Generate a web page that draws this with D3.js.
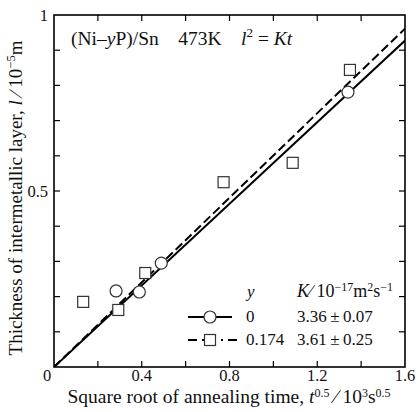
<!DOCTYPE html>
<html lang="en">
<head>
    <meta charset="UTF-8">
    <title>Intermetallic layer growth</title>
    <script src="https://d3js.org/d3.v7.min.js"></script>
    <style>
        body { margin: 0; background: #fff; }
        text { font-family: "Liberation Serif", "Times New Roman", "DejaVu Serif", serif; }
    </style>
</head>
<body>
<svg width="418" height="412"></svg>

<script>
    // data
    const circX = [0.283, 0.389, 0.489, 1.34];      // y = 0
    const circY = [0.216, 0.213, 0.295, 0.781];
    const sqX = [0.133, 0.293, 0.416, 0.773, 1.088, 1.349];  // y = 0.174
    const sqY = [0.185, 0.162, 0.267, 0.525, 0.580, 0.844];
    const kVals = [3.36, 3.61];   // K / 1e-17 m2 s-1
    const xTicks = [0.4, 0.8, 1.2, 1.6];
    const yTicks = [0.5, 1];

    const svg = d3.select("svg");
    const x = d3.scaleLinear().domain([0, 1.6]).range([54, 405]);
    const y = d3.scaleLinear().domain([0, 1]).range([367, 15]);
    const serif = "'Liberation Serif', 'Times New Roman', 'DejaVu Serif', serif";

    // frame
    svg.append("rect")
        .attr("x", x(0)).attr("y", y(1))
        .attr("width", x(1.6) - x(0)).attr("height", y(0) - y(1))
        .attr("fill", "none").attr("stroke", "#000").attr("stroke-width", 1.6);

    // inward ticks, all four sides
    const tk = 6;
    const g = svg.append("g").attr("stroke", "#000").attr("stroke-width", 1.2);
    d3.range(0.2, 1.6, 0.2).forEach(function (v) {
        g.append("line").attr("x1", x(v)).attr("x2", x(v)).attr("y1", y(0)).attr("y2", y(0) - tk);
        g.append("line").attr("x1", x(v)).attr("x2", x(v)).attr("y1", y(1)).attr("y2", y(1) + tk);
    });
    d3.range(0.1, 0.95, 0.1).forEach(function (v) {
        g.append("line").attr("x1", x(0)).attr("x2", x(0) + tk).attr("y1", y(v)).attr("y2", y(v));
        g.append("line").attr("x1", x(1.6)).attr("x2", x(1.6) - tk).attr("y1", y(v)).attr("y2", y(v));
    });

    const txt = svg.append("g").attr("font-family", serif).attr("fill", "#111");

    // tick labels
    txt.append("text").attr("x", 47).attr("y", 381).attr("font-size", 16.5)
        .attr("text-anchor", "middle").text("0");
    txt.selectAll(".xl").data(xTicks).enter().append("text")
        .attr("x", d => x(d)).attr("y", 381).attr("font-size", 16.5)
        .attr("text-anchor", "middle").text(d => d.toFixed(1));
    txt.selectAll(".yl").data(yTicks).enter().append("text")
        .attr("x", 48).attr("y", d => y(d) + 6).attr("font-size", 16.5)
        .attr("text-anchor", "end").text(d => d === 1 ? "1" : d.toFixed(1));

    // axis titles
    const xt = txt.append("text").attr("x", 229).attr("y", 403).attr("font-size", 19.5)
        .attr("text-anchor", "middle");
    xt.append("tspan").text("Square root of annealing time, ");
    xt.append("tspan").attr("font-style", "italic").text("t");
    xt.append("tspan").attr("dy", -6).attr("font-size", 12).text("0.5");
    xt.append("tspan").attr("dy", 6).text(" \u2215 10");
    xt.append("tspan").attr("dy", -6).attr("font-size", 12).text("3");
    xt.append("tspan").attr("dy", 6).text("s");
    xt.append("tspan").attr("dy", -6).attr("font-size", 12).text("0.5");

    const yt = txt.append("text").attr("transform", "translate(22,198) rotate(-90)")
        .attr("font-size", 19).attr("text-anchor", "middle");
    yt.append("tspan").text("Thickness of intermetallic layer, ");
    yt.append("tspan").attr("font-style", "italic").text("l");
    yt.append("tspan").text(" \u2215 10");
    yt.append("tspan").attr("dy", -7).attr("font-size", 12.5).text("\u22125");
    yt.append("tspan").attr("dy", 7).text("m");

    // title
    const tt = txt.append("text").attr("x", 71).attr("y", 45).attr("font-size", 19.5);
    tt.append("tspan").text("(Ni\u2013");
    tt.append("tspan").attr("font-style", "italic").text("y");
    tt.append("tspan").text("P)/Sn\u2003473K\u2003");
    tt.append("tspan").attr("font-style", "italic").text("l");
    tt.append("tspan").attr("dy", -8).attr("font-size", 13).text("2");
    tt.append("tspan").attr("dy", 8).text(" = ");
    tt.append("tspan").attr("font-style", "italic").text("Kt");

    // fit lines l = sqrt(K t)
    const slope = k => Math.sqrt(k * 1e-17) * 1e3 / 1e-5;
    const fit = d3.line().x(d => x(d[0])).y(d => y(d[1]));
    svg.append("clipPath").attr("id", "c").append("rect")
        .attr("x", x(0)).attr("y", y(1)).attr("width", x(1.6) - x(0)).attr("height", y(0) - y(1));
    svg.append("path").attr("clip-path", "url(#c)")
        .attr("d", fit([[0, 0], [1.6, 1.6 * slope(kVals[0])]]))
        .attr("stroke", "#000").attr("stroke-width", 2).attr("fill", "none");
    svg.append("path").attr("clip-path", "url(#c)")
        .attr("d", fit([[0, 0], [1.6, 1.6 * slope(kVals[1])]]))
        .attr("stroke", "#000").attr("stroke-width", 2).attr("fill", "none")
        .attr("stroke-dasharray", "9,4");

    // markers
    svg.selectAll(".sq").data(sqX).enter().append("rect")
        .attr("x", (d, i) => x(d) - 5.5).attr("y", (d, i) => y(sqY[i]) - 5.5)
        .attr("width", 11).attr("height", 11)
        .attr("fill", "#fff").attr("stroke", "#333").attr("stroke-width", 1.2);
    svg.selectAll(".ci").data(circX).enter().append("circle")
        .attr("cx", d => x(d)).attr("cy", (d, i) => y(circY[i])).attr("r", 6)
        .attr("fill", "#fff").attr("stroke", "#333").attr("stroke-width", 1.2);

    // legend
    const lg = svg.append("g").attr("font-size", 17).attr("font-family", serif).attr("fill", "#111");
    lg.append("text").attr("x", 247).attr("y", 297).attr("font-style", "italic").text("y");
    const kh = lg.append("text").attr("x", 297).attr("y", 297).attr("font-size", 18);
    kh.append("tspan").attr("font-style", "italic").text("K");
    kh.append("tspan").text("\u2215 10");
    kh.append("tspan").attr("dy", -6).attr("font-size", 12).text("\u221217");
    kh.append("tspan").attr("dy", 6).text("m");
    kh.append("tspan").attr("dy", -6).attr("font-size", 12).text("2");
    kh.append("tspan").attr("dy", 6).text("s");
    kh.append("tspan").attr("dy", -6).attr("font-size", 12).text("\u22121");

    lg.append("line").attr("x1", 188).attr("x2", 232).attr("y1", 317).attr("y2", 317)
        .attr("stroke", "#000").attr("stroke-width", 2);
    lg.append("circle").attr("cx", 210).attr("cy", 317).attr("r", 6)
        .attr("fill", "#fff").attr("stroke", "#333").attr("stroke-width", 1.2);
    lg.append("text").attr("x", 246).attr("y", 322).text("0");
    lg.append("text").attr("x", 297).attr("y", 322).text("3.36\u2009\u00b1\u20090.07");

    lg.append("line").attr("x1", 188).attr("x2", 242).attr("y1", 340).attr("y2", 340)
        .attr("stroke", "#000").attr("stroke-width", 2).attr("stroke-dasharray", "9,5,14,5,2,5");
    lg.append("rect").attr("x", 204.5).attr("y", 334.5).attr("width", 11).attr("height", 11)
        .attr("fill", "#fff").attr("stroke", "#333").attr("stroke-width", 1.2);
    lg.append("text").attr("x", 246).attr("y", 345).text("0.174");
    lg.append("text").attr("x", 297).attr("y", 345).text("3.61\u2009\u00b1\u20090.25");
</script>
</body>
</html>
